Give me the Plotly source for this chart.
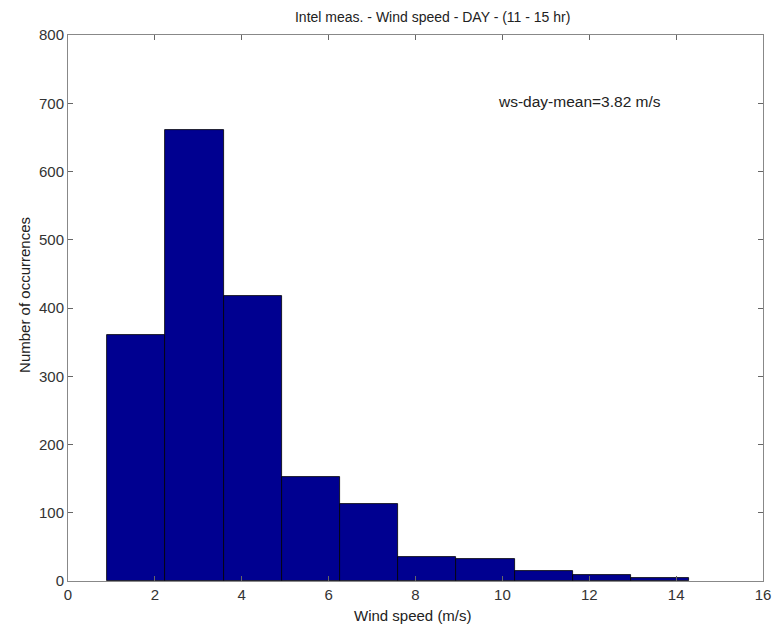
import plotly.graph_objects as go

bin_centers = [1.57, 2.91, 4.25, 5.59, 6.93, 8.27, 9.61, 10.95, 12.29, 13.63]
counts = [360, 661, 418, 152, 113, 35, 32, 14, 9, 5]
bin_width = 1.34
x_ticks = [0, 2, 4, 6, 8, 10, 12, 14, 16]
y_ticks = [0, 100, 200, 300, 400, 500, 600, 700, 800]
title = "Intel meas. - Wind speed - DAY - (11 - 15 hr)"
x_label = "Wind speed (m/s)"
y_label = "Number of occurrences"
annotation_text = "ws-day-mean=3.82 m/s"

FONT = "Liberation Sans, Arial"
TXT = "#222222"

fig = go.Figure()
fig.add_trace(go.Bar(
    x=bin_centers, y=counts, width=bin_width,
    marker=dict(color="#000090", line=dict(color="#000000", width=0.8)),
))

axis_common = dict(
    showgrid=False, zeroline=False, showline=True, linecolor="#888888", linewidth=1,
    mirror="ticks", ticks="inside", ticklen=5, tickcolor="#666666",
    tickfont=dict(family=FONT, size=15, color="#333333"),
)

fig.update_layout(
    width=775, height=618,
    margin=dict(l=60, r=18, t=27, b=45),
    paper_bgcolor="white", plot_bgcolor="white",
    showlegend=False,
    bargap=0,
    title=dict(text=title, x=0.548, xanchor="center", xref="container",
               y=0.985, yanchor="middle", yref="container",
               font=dict(family=FONT, size=14, color=TXT)),
    xaxis=dict(range=[0, 16], tickvals=x_ticks, **axis_common),
    yaxis=dict(range=[0, 800], tickvals=y_ticks, **axis_common),
    annotations=[
        dict(x=9.86, y=702, xref="x", yref="y", text=annotation_text,
             showarrow=False, xanchor="left", yanchor="middle",
             font=dict(family=FONT, size=15.5, color=TXT)),
        dict(x=0.497, y=0, xref="paper", yref="paper", text=x_label,
             showarrow=False, xanchor="center", yanchor="middle", yshift=-34,
             font=dict(family=FONT, size=15, color=TXT)),
        dict(x=0, y=0.524, xref="paper", yref="paper", text=y_label,
             showarrow=False, xanchor="center", yanchor="middle", xshift=-43,
             textangle=-90, font=dict(family=FONT, size=15, color=TXT)),
    ],
)

fig.write_html("out.html")
